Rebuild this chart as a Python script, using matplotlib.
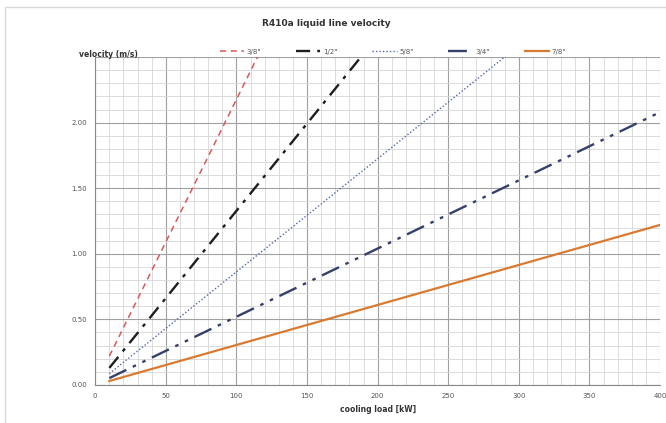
import numpy as np
import matplotlib
matplotlib.use("Agg")
import matplotlib.pyplot as plt
from matplotlib.ticker import MultipleLocator, FuncFormatter
from matplotlib.patches import Rectangle

# dados
carga = [10, 400]  # kW
tubos = ['3/8"', '1/2"', '5/8"', '3/4"', '7/8"']
vel_38 = [0.22, 8.70]
vel_12 = [0.13, 5.32]
vel_58 = [0.086, 3.45]
vel_34 = [0.052, 2.08]
vel_78 = [0.03, 1.22]

fig = plt.figure(figsize=(6.66, 4.23), dpi=100)
ax = fig.add_axes([0.143, 0.090, 0.848, 0.775])

ax.plot(carga, vel_38, color="#d65a5a", lw=1.1, ls=(0, (4, 3)), label=tubos[0])
ax.plot(carga, vel_12, color="#1e1e1e", lw=1.7, ls=(0, (6, 3, 1.5, 3)), label=tubos[1])
ax.plot(carga, vel_58, color="#5566b0", lw=1.0, ls=(0, (1, 1.5)), label=tubos[2])
ax.plot(carga, vel_34, color="#36406a", lw=1.7, ls=(0, (8, 3, 1.5, 3, 1.5, 3)), label=tubos[3])
ax.plot(carga, vel_78, color="#d97a30", lw=1.6, ls="-", label=tubos[4])

ax.set_xlim(0, 400)
ax.set_ylim(0, 2.5)
ax.xaxis.set_major_locator(MultipleLocator(50))
ax.xaxis.set_minor_locator(MultipleLocator(10))
ax.yaxis.set_major_locator(MultipleLocator(0.5))
ax.yaxis.set_minor_locator(MultipleLocator(0.1))
# o rotulo do topo fica no lugar do titulo do eixo y
ax.yaxis.set_major_formatter(FuncFormatter(lambda v, p: "" if v > 2.25 else "%.2f" % v))
ax.grid(which="major", color="#a0a0a0", lw=0.8)
ax.grid(which="minor", color="#d6d6d6", lw=0.6)
ax.set_axisbelow(True)
ax.tick_params(which="both", length=0, labelsize=5, colors="#555555", pad=6)
for s in ["top", "right"]:
    ax.spines[s].set_visible(False)
for s in ["left", "bottom"]:
    ax.spines[s].set_color("#888888")

ax.set_xlabel("cooling load [kW]", fontsize=5.5, fontweight="bold", color="#333333", labelpad=4)
fig.text(0.118, 0.872, "velocity (m/s)", fontsize=5.5, fontweight="bold", color="#333333", ha="left", va="center")
fig.text(0.49, 0.945, "R410a liquid line velocity", fontsize=6.5, fontweight="bold", color="#333333", ha="center", va="center")

fig.legend(loc="center", bbox_to_anchor=(0.59, 0.878), ncol=5, frameon=False, fontsize=5,
           handlelength=3.5, columnspacing=5, handletextpad=0.4, labelcolor="#555555")

fig.patches.append(Rectangle((0.008, -0.01), 1.0, 0.993, transform=fig.transFigure,
                             fill=False, ec="#d8d8d8", lw=1.0))

plt.savefig("out.png", dpi=100)
